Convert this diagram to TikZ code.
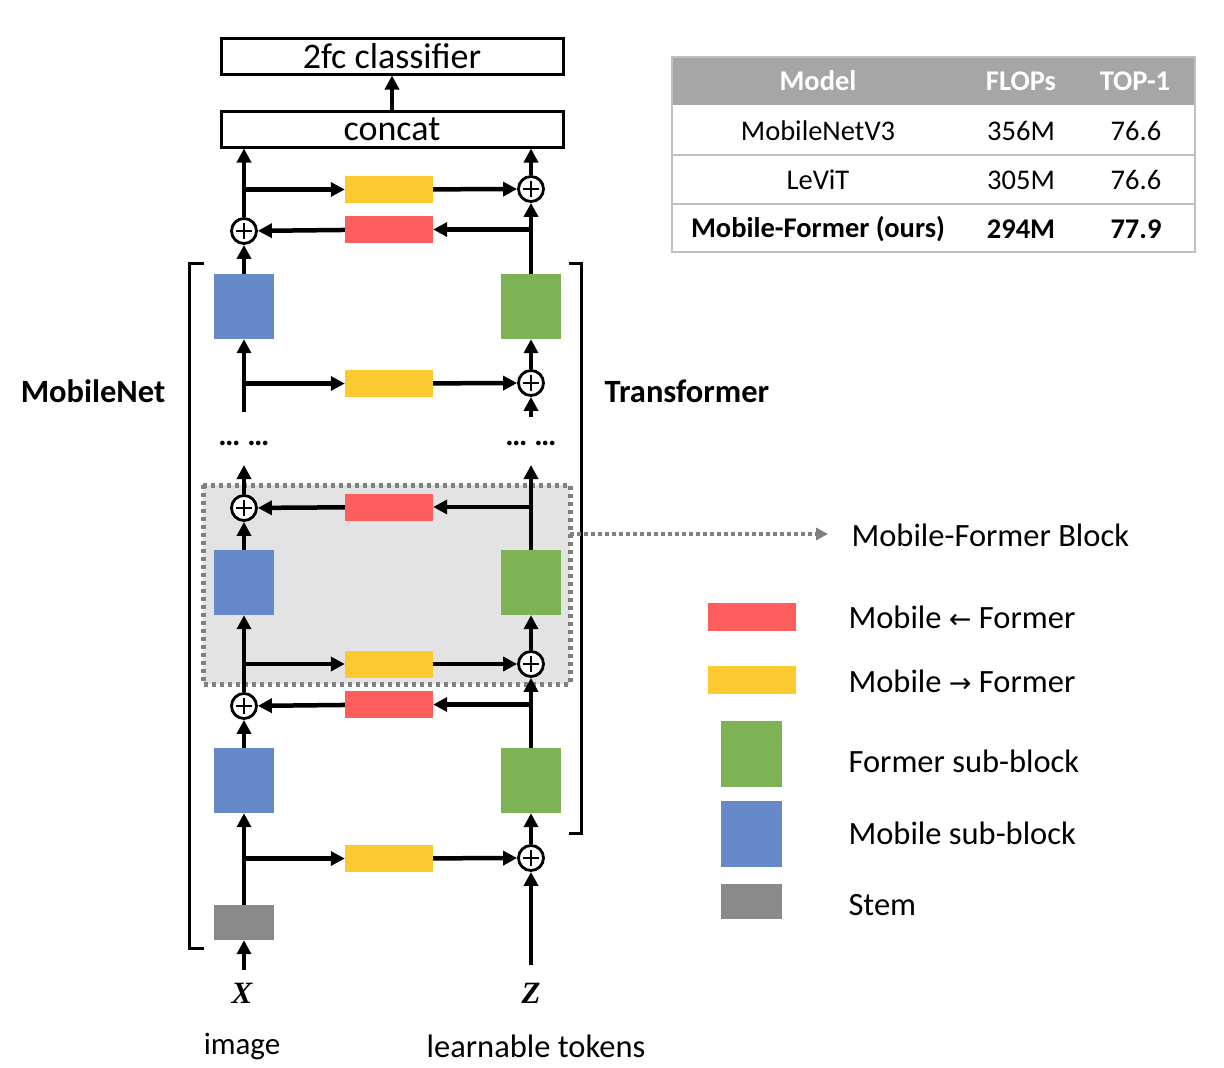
\documentclass[tikz,border=0pt]{standalone}
\usepackage{amsmath}
\usepackage{fontspec}
\setmainfont{Carlito}
\newfontfamily\symfont{DejaVu Sans}
\newfontfamily\varfont{Liberation Serif}
\usetikzlibrary{arrows.meta,calc}
\definecolor{mobblue}{HTML}{6689CC}
\definecolor{fmrgreen}{HTML}{7DB255}
\definecolor{mtofyellow}{HTML}{FCCA30}
\definecolor{ftomred}{HTML}{FF5E5E}
\definecolor{stemgray}{HTML}{8A8A8A}
\definecolor{hdgray}{HTML}{A6A6A6}
\definecolor{tabline}{HTML}{BFBFBF}
\definecolor{blockfill}{HTML}{E3E3E3}
\definecolor{framegray}{HTML}{808080}

\begin{document}
\begin{tikzpicture}[x=1pt,y=-1pt,
  every node/.style={font=\fontsize{31}{36}\selectfont},
  arr/.style={line width=4.5pt,-{Triangle[length=14pt,width=14pt]}},
  sub/.style={minimum width=60pt,minimum height=65pt,inner sep=0pt},
  mob/.style={sub,fill=mobblue},
  fmr/.style={sub,fill=fmrgreen},
  bar/.style={minimum width=88pt,minimum height=27pt,inner sep=0pt},
  mtof/.style={bar,fill=mtofyellow},
  ftom/.style={bar,fill=ftomred},
  stembox/.style={minimum width=60pt,minimum height=35pt,inner sep=0pt,fill=stemgray},
  add/.style={circle,draw,line width=2.8pt,fill=white,minimum size=25pt,inner sep=0pt,
    path picture={\draw[line width=1.8pt] (path picture bounding box.center) ++(-8pt,0pt) -- ++(16pt,0pt)
      (path picture bounding box.center) ++(0pt,-8pt) -- ++(0pt,16pt);}},
  wide/.style={draw,line width=3pt,minimum width=342pt,minimum height=36pt,inner sep=0pt,font=\fontsize{36}{40}\selectfont},
  legtxt/.style={anchor=west,font=\fontsize{32.5}{38}\selectfont},
  tabtxt/.style={font=\fontsize{28.5}{34}\selectfont},
  sidetxt/.style={font=\fontsize{32.5}{38}\selectfont\bfseries},
  vartxt/.style={font=\fontsize{31}{36}\varfont\bfseries\itshape}]
\useasboundingbox (0,0) rectangle (1224,1068);
% mobile-former block frame
\draw[framegray,line width=5pt,dash pattern=on 4pt off 4pt,fill=blockfill] (203,485) rectangle (570,684);
% brackets
\draw[line width=3pt](204,263)--(189,263)--(189,948)--(204,948);
\draw[line width=3pt](569,263)--(581,263)--(581,833)--(569,833);
% head
\node[wide] (cls) at (392,56) {2fc classifier};
\node[wide] (concat) at (392,129) {concat};
% blocks
\node[mob] (b1) at (244,306.5) {}; \node[fmr] (g1) at (531,306.5) {};
\node[mob] (b2) at (244,582.5) {}; \node[fmr] (g2) at (531,582.5) {};
\node[mob] (b3) at (244,780.5) {}; \node[fmr] (g3) at (531,780.5) {};
\node[stembox] (stem) at (244,922.5) {};
\node[mtof] (y1) at (389,189.5) {}; \node[ftom] (r1) at (389,229.5) {};
\node[mtof] (y2) at (389,383.5) {};
\node[ftom] (r2) at (389,507) {};
\node[mtof] (y3) at (389,664) {}; \node[ftom] (r3) at (389,704.5) {};
\node[mtof] (y4) at (389,858.5) {};
\node[add] (pl1) at (244,231) {}; \node[add] (pr1) at (531,189) {};
\node[add] (pr2) at (531,383) {};
\node[add] (pl2) at (244,508) {}; \node[add] (pr3) at (531,664) {};
\node[add] (pl3) at (244,706) {}; \node[add] (pr4) at (531,858) {};
\coordinate (cl1) at (244,412); \coordinate (cr1) at (531,417);
\coordinate (cl2) at (244,465); \coordinate (cr2) at (531,465);
\coordinate (xin) at (244,970); \coordinate (zin) at (531,965);
\node (dl) at (244,443) {\textbf{\dots\ \dots}}; \node (dr) at (531,443) {\textbf{\dots\ \dots}};
% connectors, top
\draw[arr] (concat) -- (cls);
\draw[arr] (pl1) -- (pl1 |- concat.south); \draw[arr] (pr1) -- (pr1 |- concat.south);
\draw[arr] (pl1 |- y1) -- (y1); \draw[arr] (y1) -- (pr1);
\draw[arr] (pr1 |- r1) -- (r1); \draw[arr] (r1) -- (pl1);
\draw[arr] (b1) -- (pl1); \draw[arr] (g1) -- (pr1);
\draw[arr] (cl1) -- (b1); \draw[arr] (cl1 |- y2) -- (y2); \draw[arr] (y2) -- (pr2);
\draw[arr] (pr2) -- (g1); \draw[arr] (cr1) -- (pr2);
% connectors, middle
\draw[arr] (pl2) -- (cl2); \draw[arr] (g2) -- (cr2);
\draw[arr] (g2 |- r2) -- (r2); \draw[arr] (r2) -- (pl2); \draw[arr] (b2) -- (pl2);
\draw[arr] (pl3) -- (b2); \draw[arr] (pl3 |- y3) -- (y3); \draw[arr] (y3) -- (pr3); \draw[arr] (pr3) -- (g2);
\draw[arr] (g3) -- (pr3); \draw[arr] (g3 |- r3) -- (r3); \draw[arr] (r3) -- (pl3); \draw[arr] (b3) -- (pl3);
% connectors, bottom
\draw[arr] (stem) -- (b3); \draw[arr] (stem |- y4) -- (y4); \draw[arr] (y4) -- (pr4); \draw[arr] (pr4) -- (g3);
\draw[arr] (zin) -- (pr4); \draw[arr] (xin) -- (stem);
\node[vartxt] (xlab) at (242,993) {X}; \node[vartxt] (zlab) at (531,993) {Z};
\node (img) at (242,1046) {image}; \node[font=\fontsize{32.5}{38}\selectfont] (tok) at (536,1046) {learnable tokens};
\node[sidetxt] (mnet) at (93,391) {MobileNet}; \node[sidetxt] (tfm) at (687,391) {Transformer};
% block legend
\node[legtxt] (blk) at (848,535) {Mobile-Former Block};
\draw[framegray,line width=3.5pt,dash pattern=on 3.5pt off 3.5pt,-{Triangle[length=12pt,width=12pt]}] (570,534) -- (828,534);
\node[ftom,minimum height=28pt] (lr) at (752,617) {}; \node[legtxt] at (845,617) {Mobile {\symfont\fontsize{27}{30}\selectfont←} Former};
\node[mtof,minimum height=28pt] (ly) at (752,680) {}; \node[legtxt] at (845,681) {Mobile {\symfont\fontsize{27}{30}\selectfont→} Former};
\node[fmr,minimum width=61pt,minimum height=66pt] (lg) at (751.5,754) {}; \node[legtxt] at (845,761) {Former sub-block};
\node[mob,minimum width=61pt,minimum height=66pt] (lb) at (751.5,833.5) {}; \node[legtxt] at (845,833) {Mobile sub-block};
\node[stembox,minimum width=61pt] (ls) at (751.5,901.5) {}; \node[legtxt] at (845,905) {Stem};
% table
\fill[hdgray] (672,57) rectangle (1195,105);
\draw[tabline,line width=1.5pt] (672,57) rectangle (1195,252) (672,155) -- (1195,155) (672,204) -- (1195,204);
\foreach \x/\t in {818/Model,1021/FLOPs,1135/TOP-1}{\node[tabtxt,text=white] at (\x,81) {\textbf{\t}};}
\foreach \m/\f/\t/\y in {MobileNetV3/356M/76.6/131,LeViT/305M/76.6/180}{
  \node[tabtxt] at (818,\y) {\m}; \node[tabtxt] at (1021,\y) {\f}; \node[tabtxt] at (1136,\y) {\t};}
\node[tabtxt] at (818,229) {\textbf{Mobile-Former (ours)}}; \node[tabtxt] at (1021,229) {\textbf{294M}}; \node[tabtxt] at (1136,229) {\textbf{77.9}};
\end{tikzpicture}
\end{document}
